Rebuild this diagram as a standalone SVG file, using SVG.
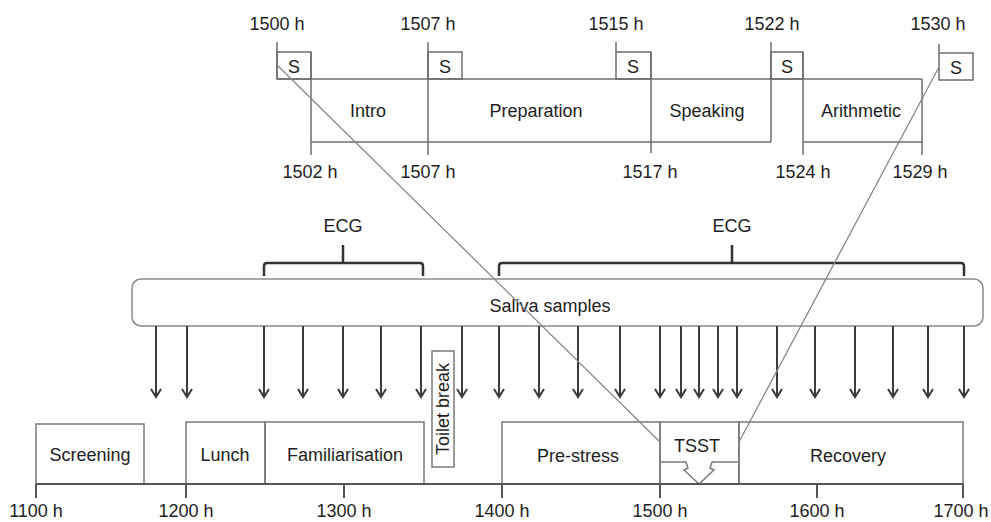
<svg xmlns="http://www.w3.org/2000/svg" width="991" height="522" viewBox="0 0 991 522">
<style>
text{font-family:"Liberation Sans",Arial,sans-serif;font-size:18px;fill:#1e1e1e;text-anchor:middle}
.box{fill:none;stroke:#7a7a7a;stroke-width:1.5}
.ln{fill:none;stroke:#6e6e6e;stroke-width:1.5}
.axis{fill:none;stroke:#555;stroke-width:2}
.diag{fill:none;stroke:#888;stroke-width:1.3}
.arr{fill:none;stroke:#3c3c3c;stroke-width:2}
.brk{fill:none;stroke:#333;stroke-width:2.5;stroke-linejoin:round}
</style>
<defs>
<marker id="ah" markerWidth="12" markerHeight="12" refX="10" refY="6" orient="auto" markerUnits="userSpaceOnUse" viewBox="0 0 12 12">
<path d="M2,1 L10,6 L2,11" fill="none" stroke="#3c3c3c" stroke-width="2"/>
</marker>
</defs>

<!-- TSST detail (top) -->
<g id="tsst-detail">
<line class="ln" x1="277" y1="79" x2="922" y2="79"/>
<line class="ln" x1="277" y1="42" x2="277" y2="79"/>
<line class="ln" x1="428" y1="42" x2="428" y2="155"/>
<line class="ln" x1="616" y1="42" x2="616" y2="52"/>
<line class="ln" x1="771" y1="42" x2="771" y2="142"/>
<line class="ln" x1="939" y1="44" x2="939" y2="53"/>
<line class="ln" x1="311" y1="52" x2="311" y2="155"/>
<line class="ln" x1="651" y1="52" x2="651" y2="153"/>
<line class="ln" x1="803" y1="52" x2="803" y2="155"/>
<line class="ln" x1="922" y1="79" x2="922" y2="155"/>
<line class="ln" x1="311" y1="142" x2="771" y2="142"/>
<line class="ln" x1="803" y1="142" x2="922" y2="142"/>
</g>
<g id="s1"><rect class="ln" x="277" y="52" width="34" height="27"/><text x="294" y="73">S</text></g>
<g id="s2"><rect class="ln" x="428" y="52" width="34" height="27"/><text x="445" y="73">S</text></g>
<g id="s3"><rect class="ln" x="616" y="52" width="35" height="27"/><text x="633" y="73">S</text></g>
<g id="s4"><rect class="ln" x="771" y="52" width="32" height="27"/><text x="787" y="73">S</text></g>
<g id="s5"><rect class="ln" x="939" y="53" width="34" height="27"/><text x="956" y="74">S</text></g>
<g id="intro"><text x="368" y="117">Intro</text></g>
<g id="preparation"><text x="536" y="117">Preparation</text></g>
<g id="speaking"><text x="707" y="117">Speaking</text></g>
<g id="arithmetic"><text x="861" y="117">Arithmetic</text></g>
<g id="top-times">
<text x="277" y="30">1500 h</text>
<text x="428" y="30">1507 h</text>
<text x="616" y="30">1515 h</text>
<text x="772" y="30">1522 h</text>
<text x="938" y="30">1530 h</text>
<text x="310" y="178">1502 h</text>
<text x="428" y="178">1507 h</text>
<text x="650" y="178">1517 h</text>
<text x="803" y="178">1524 h</text>
<text x="920" y="178">1529 h</text>
</g>

<!-- ECG brackets -->
<g id="ecg1">
<path class="brk" d="M264,276 V266 Q264,263 267,263 H420 Q423,263 423,266 V276 M343,263 V245"/>
<text x="343" y="232">ECG</text>
</g>
<g id="ecg2">
<path class="brk" d="M499,276 V266 Q499,263 502,263 H961 Q964,263 964,266 V276 M732,263 V245"/>
<text x="732" y="232">ECG</text>
</g>

<!-- Saliva -->
<g id="saliva">
<rect x="132" y="279" width="851" height="47" rx="9" ry="9" fill="#fff" stroke="#8a8a8a" stroke-width="1.5"/>
<text x="550" y="312">Saliva samples</text>
</g>

<!-- Bottom timeline -->
<g id="screening"><rect class="box" x="36" y="424" width="108" height="60"/><text x="90" y="461">Screening</text></g>
<g id="lunch"><rect class="box" x="186" y="422" width="79" height="62"/><text x="225" y="461">Lunch</text></g>
<g id="familiarisation"><rect class="box" x="265" y="422" width="159" height="62"/><text x="345" y="461">Familiarisation</text></g>
<g id="toilet"><rect class="box" x="432" y="351" width="22" height="116" fill="#fff"/><text transform="translate(449,409) rotate(-90)" x="0" y="0">Toilet break</text></g>
<g id="prestress"><rect class="box" x="502" y="422" width="158" height="62"/><text x="578" y="462">Pre-stress</text></g>
<g id="tsst"><rect class="box" x="660" y="422" width="79" height="62"/><text x="697" y="452">TSST</text>
<polyline class="box" points="660,462 686,462 688,468 684,470 699,484 714,470 710,468 712,462 739,462"/></g>
<g id="recovery"><rect class="box" x="739" y="422" width="224" height="62"/><text x="848" y="462">Recovery</text></g>

<g id="axis">
<line class="axis" x1="36" y1="484" x2="963" y2="484"/>
<path class="axis" d="M36,484V498 M186,484V498 M344,484V498 M502,484V498 M660,484V498 M817,484V498 M963,484V498"/>
<text x="36" y="517">1100 h</text>
<text x="186" y="517">1200 h</text>
<text x="344" y="517">1300 h</text>
<text x="502" y="517">1400 h</text>
<text x="660" y="517">1500 h</text>
<text x="817" y="517">1600 h</text>
<text x="961" y="517">1700 h</text>
</g>

<!-- connectors -->
<g id="connectors">
<g class="arr" marker-end="url(#ah)">
<line x1="156" y1="326" x2="156" y2="397"/>
<line x1="187" y1="326" x2="187" y2="397"/>
<line x1="264" y1="326" x2="264" y2="397"/>
<line x1="303" y1="326" x2="303" y2="397"/>
<line x1="343" y1="326" x2="343" y2="397"/>
<line x1="381" y1="326" x2="381" y2="397"/>
<line x1="421" y1="326" x2="421" y2="397"/>
<line x1="462" y1="326" x2="462" y2="397"/>
<line x1="499" y1="326" x2="499" y2="397"/>
<line x1="539" y1="326" x2="539" y2="397"/>
<line x1="578" y1="326" x2="578" y2="397"/>
<line x1="620" y1="326" x2="620" y2="397"/>
<line x1="660" y1="326" x2="660" y2="397"/>
<line x1="681" y1="326" x2="681" y2="397"/>
<line x1="699" y1="326" x2="699" y2="397"/>
<line x1="718" y1="326" x2="718" y2="397"/>
<line x1="737" y1="326" x2="737" y2="397"/>
<line x1="777" y1="326" x2="777" y2="397"/>
<line x1="815" y1="326" x2="815" y2="397"/>
<line x1="855" y1="326" x2="855" y2="397"/>
<line x1="893" y1="326" x2="893" y2="397"/>
<line x1="928" y1="326" x2="928" y2="397"/>
<line x1="964" y1="326" x2="964" y2="397"/>
</g>
<line class="diag" x1="277" y1="65" x2="660" y2="442"/>
<line class="diag" x1="939" y1="67" x2="739" y2="442"/>
</g>
</svg>
